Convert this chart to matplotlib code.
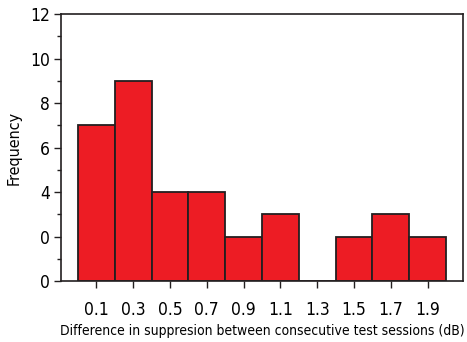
import matplotlib
matplotlib.use("Agg")
import matplotlib.pyplot as plt
import numpy as np

# histogram bin centres (dB) and counts
bin_centers = [0.1, 0.3, 0.5, 0.7, 0.9, 1.1, 1.3, 1.5, 1.7, 1.9]
counts = [7, 9, 4, 4, 2, 3, 0, 2, 3, 2]
ytick_vals = [0, 2, 4, 6, 8, 10, 12]
ytick_labels = ["0", "0", "4", "6", "8", "10", "12"]  # as printed in the source

plt.rcParams['font.family'] = ['DejaVu Sans']
plt.rcParams['font.stretch'] = 'condensed'

figure = plt.figure(figsize=(4.67, 3.42), dpi=100)
axes = figure.add_axes([0.1306, 0.178, 0.8608, 0.781])

axes.bar(bin_centers, counts, width=0.2, color="#ED1C24", edgecolor="#231F20",
         linewidth=1.3, align="center")

axes.set_xlim(-0.092, 2.092)
axes.set_ylim(0, 12)
axes.set_xticks(bin_centers)
axes.set_xticklabels([f"{v:.1f}" for v in bin_centers])
axes.set_yticks(ytick_vals)
axes.set_yticklabels(ytick_labels)
axes.set_yticks(np.arange(1, 12, 2), minor=True)

axes.tick_params(axis='both', which='major', labelsize=12.5, length=5, width=1,
                 color="#231F20", direction='out', pad=3)
axes.tick_params(axis='x', which='major', pad=9)
axes.tick_params(axis='y', which='minor', length=3, width=1, color="#231F20")
for s in axes.spines.values():
    s.set_color("#231F20")
    s.set_linewidth(1.2)

axes.set_xlabel('Difference in suppresion between consecutive test sessions (dB)',
                fontsize=10, labelpad=4)
axes.set_ylabel('Frequency', fontsize=11.5, labelpad=6)

plt.savefig('out.png', dpi=100)
